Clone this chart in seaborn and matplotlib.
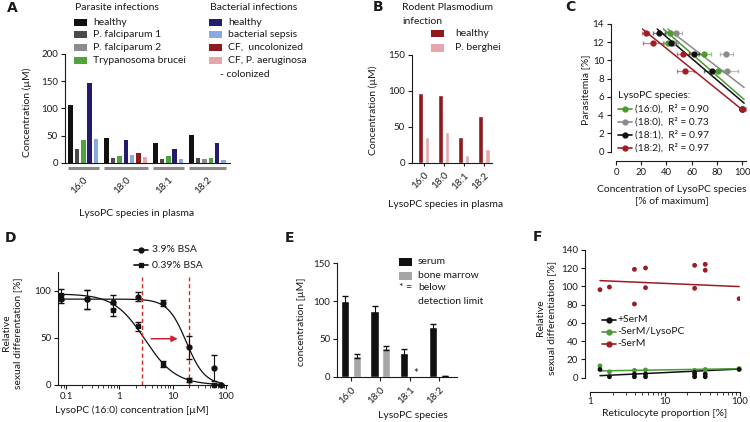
import numpy as np
import pandas as pd
import matplotlib.pyplot as plt
import matplotlib.colors as mcolors
from matplotlib.patches import Rectangle
from matplotlib.lines import Line2D
import seaborn as sns

W, H = 750, 422
species = ["16:0", "18:0", "18:1", "18:2"]
nan = np.nan

# A: LysoPC in plasma of infected patients (uM), NaN = not measured
a_names = ["healthy", "P. falciparum 1", "P. falciparum 2", "Trypanosoma brucei",
           "healthy", "bacterial sepsis", "CF,  uncolonized", "CF, P. aeruginosa"]
a_par_healthy = [106, 46, 36.5, 52]
a_pf1 = [25.5, 9, 8, 9]
a_pf2 = [nan, nan, nan, 7]
a_tbrucei = [42.5, 13, 12, 10]
a_bac_healthy = [146, 43, 26, 37]
a_sepsis = [44.5, 14, 8, 6]
a_cf_uncol = [nan, 19, nan, nan]
a_cf_col = [nan, 11.5, nan, nan]

# B: rodent infection
b_healthy = [97.5, 95, 36.5, 65]
b_berghei = [36.5, 43.5, 10.5, 19.5]

# C: parasitemia vs LysoPC (% of maximum)
c_species = ["(16:0)", "(18:0)", "(18:1)", "(18:2)"]
c_r2 = ["0.90", "0.73", "0.97", "0.97"]
c_parasitemia = [13.05, 11.95, 10.7, 8.85, 4.7]
c_x160 = [42.5, 41, 70, 81, 100]
c_x180 = [47.5, 45, 87.5, 88, 101]
c_x181 = [34, 43.7, 62, 76, 100]
c_x182 = [23.5, 29, 53, 55, 100]
c_e160 = [3, 3, 5, 4, 2]
c_e180 = [5, 4, 5, 9, 2]
c_e181 = [5, 4, 4, 6, 2]
c_e182 = [3, 8, 5, 7, 2]
c_slope = [-0.121, -0.106, -0.118, -0.112]
c_icpt = [18.0, 17.8, 17.3, 15.8]

# D: dose response
d_x_hi = [0.08, 0.25, 0.75, 2.2, 6.7, 20, 60, 80]
d_y_hi = [91, 91, 88, 93.5, 86.5, 40, 18, 0.5]
d_e_hi = [4, 10, 7, 5, 3, 12, 14, 1]
d_x_lo = [0.08, 0.25, 0.75, 2.2, 6.7, 20, 60]
d_y_lo = [95.5, 91, 79.5, 62, 22.5, 5, 0.5]
d_e_lo = [6, 10, 6, 5, 3, 2, 1]
d_top = [91, 96.5]
d_ic50 = [18, 3.0]
d_hill = [2.5, 1.5]
d_vlines = [2.7, 20]
d_arrow = [3.5, 14, 49]

# E: serum vs bone marrow
e_serum = [100, 87, 32, 66]
e_serum_err = [7, 7, 4, 4]
e_marrow = [27, 37.5, nan, 1]
e_marrow_err = [2.5, 2.5, nan, 0.5]

# F: reticulocyte proportion
f_red_x = [1.36, 1.82, 3.93, 3.93, 5.53, 5.53, 25.1, 25.1, 34.8, 34.8, 98.9]
f_red_y = [96.5, 99.4, 118.8, 80.8, 120.3, 98.7, 123.2, 98, 124.3, 117.8, 86.6]
f_blk_x = [1.36, 1.82, 3.93, 3.93, 5.53, 5.53, 25.1, 25.1, 25.1, 34.8, 34.8, 98.9]
f_blk_y = [9, 1, 1, 4, 1, 4, 1, 4, 6, 1, 4, 9]
f_grn_x = [1.36, 1.82, 3.93, 5.53, 25.1, 34.8, 98.9]
f_grn_y = [13, 6.5, 8, 8.5, 8, 9, 10]
f_fit = {"+SerM": (1.7, 3.9), "-SerM/LysoPC": (7.3, 1.3), "-SerM": (106.9, -3.5)}

BLACK, DGRAY, GRAY = "#111111", "#4a4a4a", "#8c8c8c"
GREEN, NAVY, LBLUE = "#52a23a", "#231c6e", "#8aa9e2"
DRED, PINK = "#8f1a1d", "#e6a6aa"
C_COLORS = ["#4b9a2f", "#8a8a8a", "#111111", "#a11c24"]
F_RED = "#9c1c22"
PX = 0.72  # points per pixel at 100 dpi

sns.set_style("ticks")
plt.rcParams["font.family"] = ["Lato", "DejaVu Sans"]
plt.rcParams.update({
    "mathtext.default": "regular", "axes.linewidth": 0.8,
    "xtick.major.width": 0.8, "ytick.major.width": 0.8,
    "xtick.minor.width": 0.6, "xtick.major.size": 3, "ytick.major.size": 3,
    "xtick.minor.size": 2, "xtick.labelsize": 7, "ytick.labelsize": 7,
    "axes.labelsize": 7.5, "xtick.major.pad": 2, "ytick.major.pad": 2,
    "text.color": "#1a1a1a", "axes.labelcolor": "#1a1a1a",
    "xtick.color": "#1a1a1a", "ytick.color": "#1a1a1a", "axes.edgecolor": "#1a1a1a",
})

fig = plt.figure(figsize=(7.5, 4.22), dpi=100)


def box(x0, y0, x1, y1):
    return fig.add_axes([x0 / W, 1 - y1 / H, (x1 - x0) / W, (y1 - y0) / H])


def ftext(x, y, s, **kw):
    kw.setdefault("va", "center")
    kw.setdefault("fontsize", 7.5)
    fig.text(x / W, 1 - y / H, s, **kw)


def key_patch(x, y, color, label, tx, w=13, h=7.5):
    fig.add_artist(Rectangle((x / W, 1 - (y + h / 2) / H), w / W, h / H,
                             transform=fig.transFigure, facecolor=color, edgecolor="none"))
    ftext(tx, y, label)


def key_line(x, y, color, label, tx, marker="o", w=14, fs=7.5):
    fig.add_artist(Line2D([x / W, (x + w) / W], [1 - y / H] * 2, transform=fig.transFigure,
                          color=color, lw=1.2))
    fig.add_artist(Line2D([(x + w / 2) / W], [1 - y / H], transform=fig.transFigure,
                          color=color, marker=marker, ms=3.5, lw=0))
    ftext(tx, y, label, fontsize=fs)


def ylab(ax, s, x, y):
    ax.set_ylabel(s, va="center", ha="center", rotation=90, rotation_mode="default",
                  multialignment="center")
    ax.yaxis.set_label_coords(x / W, 1 - y / H, transform=fig.transFigure)


def xlab(ax, s, x, y):
    ax.set_xlabel(s, va="center", ha="center", multialignment="center")
    ax.xaxis.set_label_coords(x / W, 1 - y / H, transform=fig.transFigure)


# ---------------- A ----------------
axA = box(65, 54, 230, 163)
a_series = [a_par_healthy, a_pf1, a_pf2, a_tbrucei, a_bac_healthy, a_sepsis, a_cf_uncol, a_cf_col]
a_colors = [BLACK, DGRAY, GRAY, GREEN, NAVY, LBLUE, DRED, PINK]
pos = 0.0
centers, spans = [], []
for gi in range(len(species)):
    xs = []
    for si, vals in enumerate(a_series):
        if np.isnan(vals[gi]):
            continue
        axA.bar(pos, vals[gi], width=0.7, color=a_colors[si], linewidth=0)
        xs.append(pos)
        pos += 1
    centers.append(np.mean(xs))
    spans.append((xs[0] - 0.4, xs[-1] + 0.4))
    pos += 0.65
axA.set_xlim(-0.86, spans[-1][1] + 0.6)
axA.set_ylim(0, 200)
axA.set_yticks([0, 50, 100, 150, 200])
for s0, s1 in spans:
    axA.plot([s0, s1], [-0.045, -0.045], transform=axA.get_xaxis_transform(),
             color=GRAY, lw=2.2, clip_on=False, solid_capstyle="butt")
axA.set_xticks(centers, species, rotation=45, ha="right", rotation_mode="anchor")
axA.tick_params(axis="x", length=0, pad=9)
sns.despine(ax=axA)
ylab(axA, "Concentration (µM)", 27, 112)
xlab(axA, "LysoPC species in plasma", 137, 214)

ftext(75, 7, "Parasite infections")
ftext(210, 7, "Bacterial infections")
rows = [22.5, 34.5, 47.5, 60.5]
for i in range(4):
    key_patch(74, rows[i], a_colors[i], a_names[i], 93)
    key_patch(209, rows[i], a_colors[4 + i], a_names[4 + i], 228)
ftext(220, 74.5, "- colonized")

# ---------------- B ----------------
axB = box(412, 55, 492, 163)
dfB = pd.DataFrame({"species": species * 2, "conc": b_healthy + b_berghei,
                    "group": ["healthy"] * 4 + ["P. berghei"] * 4})
sns.barplot(data=dfB, x="species", y="conc", hue="group", palette=[DRED, PINK],
            width=0.65, gap=0.3, saturation=1, errorbar=None, legend=False, ax=axB)
axB.set_xlim(-0.585, 3.4)
axB.set_ylim(0, 150)
axB.set_yticks([0, 50, 100, 150])
axB.set_xticks(range(4), species, rotation=45, ha="right", rotation_mode="anchor")
axB.tick_params(axis="x", length=2.5, pad=3)
sns.despine(ax=axB)
ylab(axB, "Concentration (µM)", 373, 110)
xlab(axB, "LysoPC species in plasma", 446, 205)
ftext(402, 7, "Rodent Plasmodium")
ftext(402, 21, "infection")
key_patch(431, 33.5, DRED, "healthy", 455)
key_patch(431, 48, PINK, "P. berghei", 455)

# ---------------- C ----------------
axC = box(616, 24, 745.5, 151.7)
c_xs = [c_x160, c_x180, c_x181, c_x182]
c_es = [c_e160, c_e180, c_e181, c_e182]
for i in range(4):
    col = C_COLORS[i]
    axC.errorbar(c_xs[i], c_parasitemia, xerr=c_es[i], fmt="o", color=col, ms=3.5,
                 ecolor=mcolors.to_rgba(col, 0.55), elinewidth=0.9, capsize=1.5,
                 clip_on=False, zorder=3)
    x0 = (13.45 - c_icpt[i]) / c_slope[i]
    xl = np.array([x0, 101.5])
    axC.plot(xl, c_icpt[i] + c_slope[i] * xl, color=col, lw=1.1, clip_on=False)
axC.set_xlim(0, 102.6)
axC.set_ylim(0, 14)
axC.set_xticks(range(0, 101, 20))
axC.set_yticks(range(0, 15, 2))
axC.tick_params(axis="x", labelsize=6.8)
axC.spines["bottom"].set_position(("outward", 9 * PX))
axC.spines["left"].set_position(("outward", 5 * PX))
sns.despine(ax=axC)
ylab(axC, "Parasitemia [%]", 586, 90)
xlab(axC, "Concentration of LysoPC species\n[% of maximum]", 672, 195)
ftext(618, 95, "LysoPC species:")
for i, yy in enumerate([109, 122, 135, 148]):
    key_line(618, yy, C_COLORS[i], c_species[i] + ",  R² = " + c_r2[i], 635, fs=7.3)

# ---------------- D ----------------
axD = box(58.3, 271.7, 226.7, 385)
axD.set_xscale("log")
xx = np.logspace(np.log10(0.08), np.log10(85), 300)
for top, ic, h in zip(d_top, d_ic50, d_hill):
    axD.plot(xx, top / (1 + (xx / ic) ** h), color=BLACK, lw=0.9)
axD.errorbar(d_x_hi, d_y_hi, yerr=d_e_hi, fmt="o", color=BLACK, ms=3.5, elinewidth=0.8,
             capsize=2.5, clip_on=False, zorder=3)
axD.errorbar(d_x_lo, d_y_lo, yerr=d_e_lo, fmt="s", color=BLACK, ms=3.5, elinewidth=0.8,
             capsize=2.5, clip_on=False, zorder=3)
for v in d_vlines:
    axD.axvline(v, ymax=0.955, color="#d42a2a", lw=1, ls=(0, (3, 2)))
axD.annotate("", xy=(d_arrow[1], d_arrow[2]), xytext=(d_arrow[0], d_arrow[2]),
             arrowprops=dict(arrowstyle="-|>", color="#c8232c", lw=1.1, mutation_scale=9))
axD.set_xlim(0.071, 103)
axD.set_ylim(0, 120)
axD.set_yticks([0, 50, 100])
axD.set_xticks([0.1, 1, 10, 100], ["0.1", "1", "10", "100"])
sns.despine(ax=axD)
ylab(axD, "Relative\nsexual differentation [%]", 12, 333)
xlab(axD, "LysoPC (16:0) concentration [µM]", 132, 410)
key_line(134, 250, BLACK, "3.9% BSA", 152, marker="o")
key_line(134, 265, BLACK, "0.39% BSA", 152, marker="s")

# ---------------- E ----------------
axE = box(337.3, 263.3, 456.7, 376.7)
dfE = pd.DataFrame({"species": species * 2, "conc": e_serum + e_marrow,
                    "err": e_serum_err + e_marrow_err,
                    "tissue": ["serum"] * 4 + ["bone marrow"] * 4})
sns.barplot(data=dfE, x="species", y="conc", hue="tissue", palette=[BLACK, "#a6a6a6"],
            width=0.8, gap=0.3, saturation=1, errorbar=None, legend=False, ax=axE)
offs = {"serum": -0.2, "bone marrow": 0.2}
ex = [species.index(s) + offs[t] for s, t in zip(dfE["species"], dfE["tissue"])]
axE.errorbar(ex, dfE["conc"], yerr=dfE["err"], fmt="none", ecolor=BLACK, elinewidth=0.8,
             capsize=2.2)
axE.text(2.2, 4, "*", ha="center", va="center", fontsize=8)
axE.set_xlim(-0.47, 3.6)
axE.set_ylim(0, 150)
axE.set_yticks([0, 50, 100, 150])
axE.set_xticks(range(4), species, rotation=45, ha="right", rotation_mode="anchor")
axE.tick_params(axis="x", length=3, pad=3)
sns.despine(ax=axE)
ylab(axE, "concentration [µM]", 302, 322)
xlab(axE, "LysoPC species", 413, 415)
key_patch(399, 262, BLACK, "serum", 418, w=12.5)
key_patch(399, 276, "#a6a6a6", "bone marrow", 418, w=12.5)
ftext(399, 288, "* =")
ftext(418, 288, "below")
ftext(418, 301, "detection limit")

# ---------------- F ----------------
axF = box(590, 250, 739.5, 377.7)
axF.set_xscale("log")
fx = np.logspace(np.log10(1.36), np.log10(98.9), 50)
f_cols = {"+SerM": BLACK, "-SerM/LysoPC": "#4b9a35", "-SerM": F_RED}
for name, (b0, b1) in f_fit.items():
    axF.plot(fx, b0 + b1 * np.log10(fx), color=f_cols[name], lw=1.1)
sns.scatterplot(x=f_red_x, y=f_red_y, color=F_RED, s=12, edgecolor="none", ax=axF, zorder=3)
sns.scatterplot(x=f_grn_x, y=f_grn_y, color="#4b9a35", s=12, edgecolor="none", ax=axF, zorder=3,
                clip_on=False)
sns.scatterplot(x=f_blk_x, y=f_blk_y, color=BLACK, s=12, edgecolor="none", ax=axF, zorder=3,
                clip_on=False)
axF.set_xlim(1, 100)
axF.set_ylim(0, 140)
axF.set_yticks(range(0, 141, 20))
axF.set_xticks([1, 10, 100], ["1", "10", "100"])
axF.tick_params(axis="x", pad=1)
axF.spines["bottom"].set_position(("outward", 14 * PX))
axF.spines["left"].set_position(("outward", 5 * PX))
sns.despine(ax=axF)
ylab(axF, "Relative\nsexual differentiation [%]", 546, 318)
xlab(axF, "Reticulocyte proportion [%]", 665, 414)
for yy, name in zip([320, 332, 344], f_fit):
    key_line(602, yy, f_cols[name], name, 617)

for letter, x, y in [("A", 12, 8), ("B", 378, 7), ("C", 570, 7),
                     ("D", 10, 238), ("E", 290, 238), ("F", 537, 237)]:
    ftext(x, y, letter, fontsize=10, fontweight="bold", family="DejaVu Sans", ha="center")

fig.savefig("out.png", dpi=100)
